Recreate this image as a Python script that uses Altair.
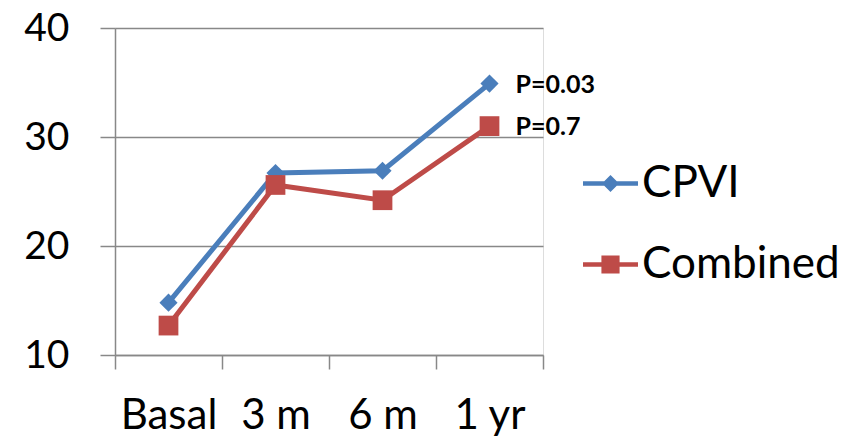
import altair as alt
import pandas as pd

categories = ["Basal", "3 m", "6 m", "1 yr"]
cpvi = [14.8, 26.7, 26.9, 34.9]
combined = [12.7, 25.6, 24.2, 31.0]
series_names = ["CPVI", "Combined"]
p_labels = ["P=0.03", "P=0.7"]
y_ticks = [10, 20, 30, 40]

BLUE = "#4A7EBB"
RED = "#BE4B48"
FONT = "Lato"

rows = []
for c, v in zip(categories, cpvi):
    rows.append({"time": c, "value": v, "series": "CPVI"})
for c, v in zip(categories, combined):
    rows.append({"time": c, "value": v, "series": "Combined"})
df = pd.DataFrame(rows)

ann = pd.DataFrame({
    "time": [categories[-1], categories[-1]],
    "value": [cpvi[-1], combined[-1]],
    "label": p_labels,
})

x_enc = alt.X("time:N", sort=categories, bandPosition=0.5,
              scale=alt.Scale(type="band", domain=categories, paddingInner=0, paddingOuter=0),
              axis=alt.Axis(title=None, tickBand="extent", labelAngle=0, labelFontSize=42,
                            labelFont=FONT, labelColor="black", tickSize=14, tickColor="#888888",
                            tickWidth=1.5, domainColor="#888888", domainWidth=1.5,
                            labelPadding=26, grid=False))
y_enc = alt.Y("value:Q", scale=alt.Scale(domain=[10, 40], nice=False, zero=False),
              axis=alt.Axis(title=None, values=y_ticks, labelFontSize=39, labelFont=FONT,
                            labelColor="black", tickSize=15, tickColor="#888888", tickWidth=1.5,
                            domainColor="#888888", domainWidth=1.5, gridColor="#888888",
                            gridWidth=1.5, labelPadding=31, grid=True))

base = alt.Chart(df).encode(x=x_enc, y=y_enc)

line_c = base.transform_filter(alt.datum.series == "CPVI").mark_line(color=BLUE, strokeWidth=5)
line_m = base.transform_filter(alt.datum.series == "Combined").mark_line(color=RED, strokeWidth=5)
pt_c = base.transform_filter(alt.datum.series == "CPVI").mark_point(
    shape="diamond", filled=True, color=BLUE, size=330, opacity=1)
pt_m = base.transform_filter(alt.datum.series == "Combined").mark_point(
    shape="square", filled=True, color=RED, size=390, opacity=1)

legend_paths = [
    "M-1,-0.08H1V0.08H-1Z M0,-0.31L0.31,0L0,0.31L-0.31,0Z",
    "M-1,-0.08H1V0.08H-1Z M-0.33,-0.33H0.33V0.33H-0.33Z",
]

legend_layer = alt.Chart(df).transform_filter("false").mark_point(filled=True, opacity=1).encode(
    color=alt.Color("series:N", scale=alt.Scale(domain=series_names, range=[BLUE, RED]),
                    legend=alt.Legend(title=None, orient="none", legendX=468, legendY=128,
                                      symbolSize=3025, labelFontSize=44, labelFont=FONT,
                                      labelColor="black", labelLimit=0, labelOffset=4,
                                      rowPadding=31, padding=0, symbolStrokeWidth=0)),
    shape=alt.Shape("series:N", scale=alt.Scale(domain=series_names, range=legend_paths)),
)

text = alt.Chart(ann).mark_text(align="left", baseline="middle", dx=26, dy=1, fontSize=25,
                                fontWeight="bold", font=FONT, color="black").encode(
    x=alt.X("time:N", sort=categories, bandPosition=0.5),
    y=alt.Y("value:Q"),
    text="label:N",
)

chart = alt.layer(line_c, line_m, pt_c, pt_m, text, legend_layer).properties(
    width=428, height=327,
    autosize=alt.AutoSizeParams(type="none"),
    padding={"left": 115, "top": 28, "right": 313, "bottom": 84},
).configure_view(stroke=None).configure(background="white")

chart.save("out.html", embed_options={"renderer": "svg", "actions": False})
